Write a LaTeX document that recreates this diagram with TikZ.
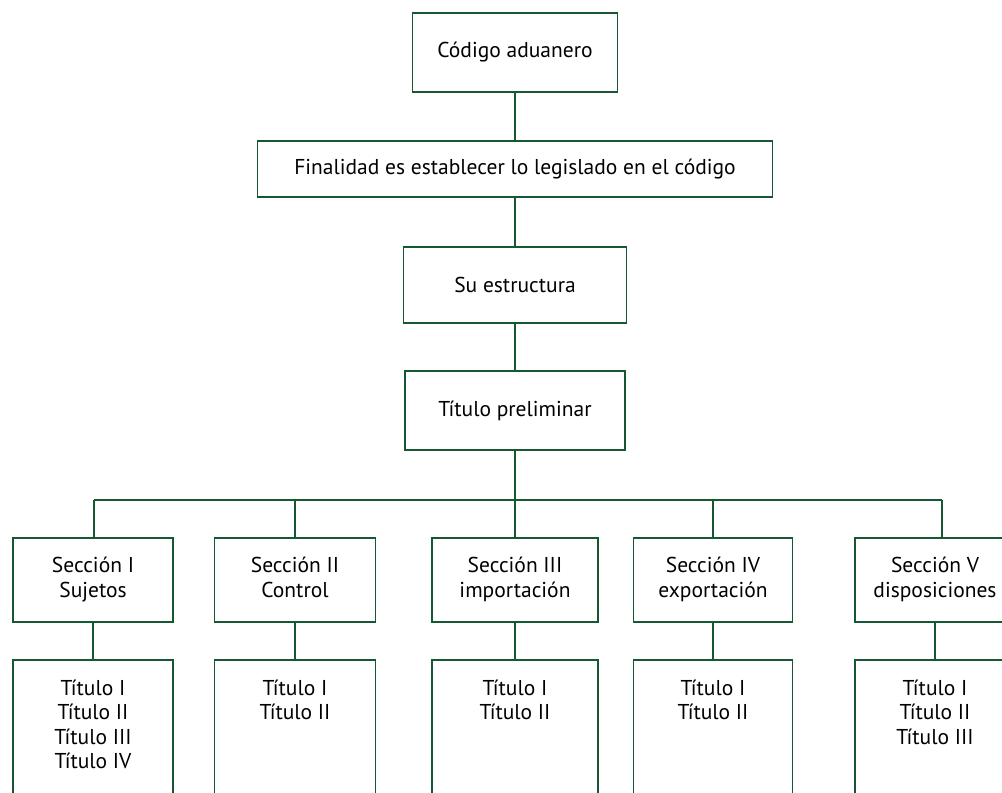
\documentclass[tikz,border=0pt]{standalone}
\usepackage{fontspec}
\setmainfont{PT Sans}
\usetikzlibrary{positioning}
\definecolor{aduverde}{RGB}{22,88,50}
\tikzset{
  caja/.style={draw=aduverde,line width=1.8pt,outer sep=0pt,inner sep=0pt,align=center,
    font=\fontsize{21.5}{24.5}\selectfont},
  lista/.style={draw=aduverde,line width=1.8pt,outer sep=0pt,inner sep=0pt,
    font=\fontsize{21.5}{24.5}\selectfont,text height=35pt,text depth=150pt},
  enlace/.style={draw=aduverde,line width=1.8pt},
}
\newcommand{\seccion}[5]{
  \node[caja,minimum width=#3,minimum height=84pt] (#1) at (#2,580)
    {\begin{tabular}{@{}c@{}}#4\end{tabular}};
  \node[lista,anchor=north,minimum width=#3] (#1t) at (#2,660)
    {\begin{tabular}[t]{@{}c@{}}#5\end{tabular}};
  \draw[enlace] (#1) -- (#1t);
}

\begin{document}
\begin{tikzpicture}[x=1pt,y=-1pt]
  \path[use as bounding box,clip] (0,0) rectangle (1002,793);

  \node[caja,minimum width=205pt,minimum height=79pt] (codigo) at (515,52.5) {Código aduanero};
  \node[caja,minimum width=515pt,minimum height=56pt,below=49pt of codigo] (finalidad) {Finalidad es establecer lo legislado en el código};
  \node[caja,minimum width=223pt,minimum height=76pt,below=50pt of finalidad] (estructura) {Su estructura};
  \node[caja,minimum width=220pt,minimum height=79pt,below=48pt of estructura] (preliminar) {Título preliminar};

  \draw[enlace] (codigo) -- (finalidad);
  \draw[enlace] (finalidad) -- (estructura);
  \draw[enlace] (estructura) -- (preliminar);

  \seccion{secI}{93}{160pt}{Sección I\\Sujetos}{Título I\\Título II\\Título III\\Título IV}
  \seccion{secII}{295}{161pt}{Sección II\\Control}{Título I\\Título II}
  \seccion{secIII}{515}{166pt}{Sección III\\importación}{Título I\\Título II}
  \seccion{secIV}{713}{159pt}{Sección IV\\exportación}{Título I\\Título II}
  \seccion{secV}{935}{160pt}{Sección V\\disposiciones}{Título I\\Título II\\Título III}

  % barra horizontal
  \coordinate (barL) at (94,500);
  \coordinate (barR) at (942,500);
  \draw[enlace] (barL) -- (barR);
  \draw[enlace] (preliminar) -- (preliminar |- barL);
  \draw[enlace] (barL) -- (secI.north -| barL);
  \draw[enlace] (secII.north) -- (secII.north |- barL);
  \draw[enlace] (secIII.north) -- (secIII.north |- barL);
  \draw[enlace] (secIV.north) -- (secIV.north |- barL);
  \draw[enlace] (barR) -- (secV.north -| barR);
\end{tikzpicture}
\end{document}
